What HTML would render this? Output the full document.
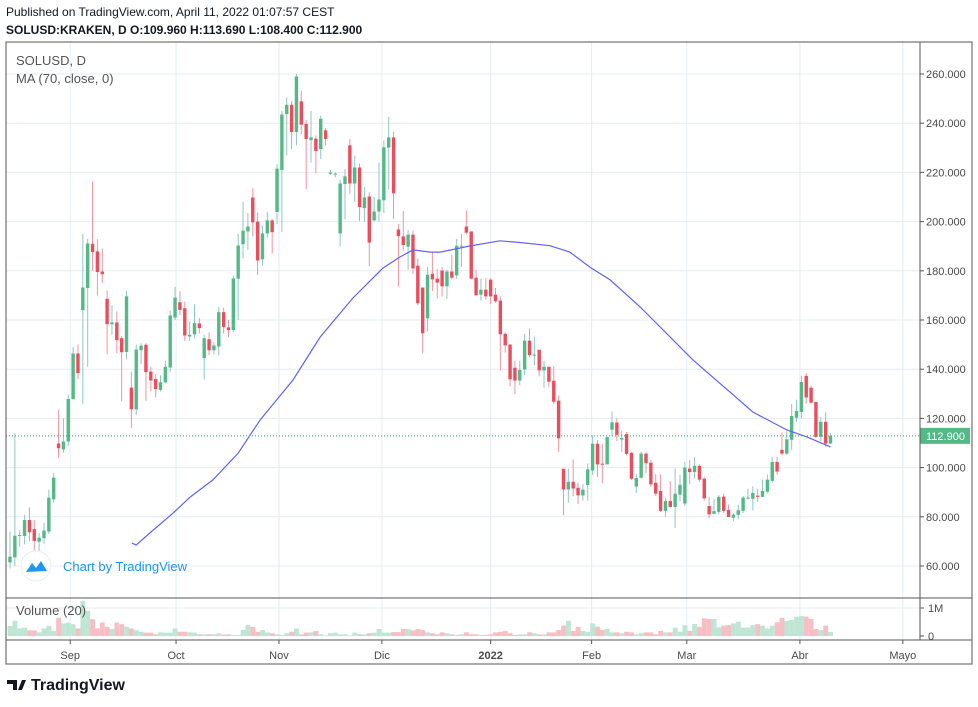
<!DOCTYPE html>
<html><head><meta charset="utf-8">
<style>
body{margin:0;background:#fff;width:978px;height:702px;overflow:hidden;font-family:"Liberation Sans",sans-serif;}
svg text{font-family:"Liberation Sans",sans-serif;}
</style></head>
<body>
<svg id="chart" width="978" height="702" xmlns="http://www.w3.org/2000/svg">
<text x="6" y="16" font-size="12" fill="#131722">Published on TradingView.com, April 11, 2022 01:07:57 CEST</text>
<text x="6" y="34" font-size="12" font-weight="bold" fill="#131722">SOLUSD:KRAKEN, D O:109.960 H:113.690 L:108.400 C:112.900</text>
<g id="grid"></g>
<g id="vol"></g>
<g id="candles"></g>
<path id="ma" fill="none" stroke="#6262f5" stroke-width="1.2"/>
<g id="axes"></g>
<text x="16" y="65" font-size="13" fill="#555">SOLUSD, D</text>
<text x="16" y="83" font-size="13" fill="#555">MA (70, close, 0)</text>
<text x="16" y="615" font-size="13" fill="#555">Volume (20)</text>
<g>
<circle cx="36" cy="566" r="15" fill="#fff" stroke="#e8eef2"/>
<path d="M26 572 L32 563 L36 568 L41 561 L47 571 Z" fill="#2196f3"/>
<text x="63" y="571" font-size="13" fill="#2196f3">Chart by TradingView</text>
</g>
<g>
<path d="M7 680 h10 v10 h-4 v-6 h-6z" fill="#131722"/><path d="M18 690 l4 -10 h4 l-4 10z" fill="#131722"/>
<text x="31" y="690" font-size="16" font-weight="bold" fill="#131722">TradingView</text>
</g>
</svg>
<script>
const opens=[61.5,63.5,72.4,72.2,78.7,75,69.9,71.3,74,87.1,109.8,107.4,110.6,127.8,146.4,164,173,191,187.9,179.7,168.6,158.3,159,152.6,147,132.5,123.7,147.7,149.9,139,136,131.6,134.6,140.7,161,167.2,164.8,153.3,154.2,158.6,144.5,152.2,147.7,149.2,163.2,157,155.9,176.8,190.8,196,209.8,200,184.7,195.2,200.5,203.9,221,243.7,247.5,236.4,248.9,239.7,233.1,233.7,229.5,237.1,219.4,219.1,195.2,215.3,231,215.5,222,205.5,210.2,200.5,204.1,208.7,230.1,234.2,196.8,194,189.8,194.7,182.1,173.2,160.7,178.8,176.8,180.1,173.7,179.7,178.2,190,198,196,177.2,170.3,172.3,176.4,170.3,167.9,154.4,150,140.6,135.4,139.9,151.6,145.6,147.9,139.5,141,135.3,127.2,99.5,91.1,94.2,91.8,88.7,92.9,98.8,109.7,101.6,101.3,115.4,118.3,111.4,113.6,106,92.3,95.9,105.7,102,93.8,90.5,82.4,86.4,84,89,85.4,99.6,98.2,100.7,95.5,84.4,81.2,82,88.2,82.8,79.6,80.8,82.4,87.4,87.3,88.6,88.1,90.2,94.6,102.3,107.2,105.7,111.3,120.3,122.6,137.3,132.5,126.7,112.5,118.6,109.8];
const highs=[74,114,74.6,80.9,83.8,78.7,73.3,77.6,91,97.9,123.5,120,129.6,149,150,195,193,216.3,192.8,189,172,166,163.5,153.5,171.8,139,150,150.5,150.5,141,138,137.5,143.5,163.8,173.5,171.8,167.5,159.5,166.3,160.8,154,155,151,165.3,164.9,160,178,195,208,203.5,213.6,203.7,198.5,204,201,223.3,245,250.5,249,260,253.3,241.4,245,235,243,238,221,220,217,221.3,233.6,226.8,223.6,214,211.9,210,224,233,242.6,236.5,199,204.3,196.5,196.3,185,173.2,181.5,187.6,180.7,181.5,180.5,186.5,193,195,204.5,196,180.5,176.8,177,177,173,169.6,155,150.3,143.4,143.4,154.4,156.5,153.2,147.9,143.3,141,141.2,129.3,99.5,99.5,103.3,94,93.4,101.7,113.2,111.2,109.6,112.6,122.8,120.2,115,114.5,106.4,97.5,106.4,106.2,103,97.3,97.3,87.8,94.5,99.6,97,102.4,103,104.3,101.3,96,88,87.3,88.8,89.3,85,81.5,85,88.5,91.4,92.4,91.4,95.1,97.2,104.4,104.4,114.3,114.8,125.8,127.6,137.3,138.4,133.3,126.7,120.5,122.4,113.9];
const lows=[59,60,67.8,68.8,70,64.5,66,69,73,85.8,103.8,106,108.7,127.8,136,125.8,141,180,170,175,146,154,146.5,127,144,116,121.5,142,127.2,131,128.5,131,134.6,139,160,162,151.5,151.5,152.5,154.5,135.8,145.8,146,145.5,154.5,153,155,160,185,188.5,194,178.3,182,193.5,187,199,195.8,227,229.6,231,235.6,213.2,224,219.6,225.4,231,219,218,190,201,211.3,208,200.3,200,181.8,200,200,203.5,213,201,173.6,188.2,180.5,178.6,166,146.5,155.3,171.8,168.8,169.5,168.5,176.5,176.6,181.5,194.7,176.5,170,167.9,168.2,166.5,167,139.4,146.8,133,129.8,133.5,137.6,145,141.5,137.1,132.5,132.9,125.8,106.4,80.6,85.7,88.4,85.2,86.6,86.6,97,96.2,93.6,101.7,112.7,110.8,106.4,105,95,89.7,95.5,97.7,92.3,88.5,82,80,83.8,75.4,86.4,84.4,93.2,95.5,94.2,86.6,79.5,81,81,81.6,79.9,78.3,79,81.5,87,82.6,86,88,89.5,93.9,97.2,105,105.2,107.2,118.6,120,126,126,112,110.8,108.5,109.5];
const closes=[63.8,72.3,72.6,78.7,73.7,70.2,71.5,74.4,87.8,95.9,107.9,110.6,127.9,146.4,138.4,173.2,191.1,187.6,179.5,178.6,158.3,159,151.8,146.9,169.6,123.7,148,149.6,138.8,135.4,131.9,134.7,141,161.8,169.1,164.1,153.7,154,158.7,156.7,152.6,147.7,149.6,163.2,157.1,155.9,176.9,190.3,196.3,198,199.7,184.2,195.2,200.5,195.7,221.5,243.5,247.5,236.4,259,239.4,233.6,234.2,228.7,241.8,233.6,219.9,219.5,215.5,218.4,215.5,222,205.9,209.8,191.5,204.1,209,230.2,234.2,211.5,194.1,190.5,194.7,181,166.8,154.6,178.4,176.5,175.2,173.7,179.7,177.2,190.2,190.2,195.5,176.8,170,172.3,169.6,169.6,167.6,154.2,149.7,135.9,135.4,139.7,151.6,145.7,145.9,139.5,141,134.9,126.8,111.9,91.1,94.2,91.5,88.7,91,99.3,109.7,101.3,101.3,112.4,118.4,113.3,112,105.6,95.5,95.8,105.7,101.8,93.2,89.4,82.4,86.4,84,89.4,93,100,98.2,100.7,95.1,87.5,81,82.3,88.1,82.4,79.9,80.9,82.7,87.8,87.8,89.7,88.1,90.5,95.1,102.3,98.4,105.7,111.5,121,123,134.8,128.5,126.4,112.5,118.6,109.8,112.9];
const volumes=[0.36,0.54,0.27,0.30,0.20,0.20,0.13,0.27,0.36,0.18,0.65,0.45,0.48,0.42,0.27,1.25,0.90,0.60,0.27,0.48,0.33,0.25,0.48,0.42,0.33,0.27,0.21,0.15,0.12,0.12,0.06,0.13,0.12,0.12,0.27,0.15,0.15,0.13,0.12,0.06,0.06,0.06,0.06,0.10,0.05,0.06,0.04,0.04,0.22,0.40,0.33,0.15,0.21,0.13,0.10,0.06,0.04,0.10,0.15,0.27,0.06,0.12,0.13,0.18,0.06,0.02,0.10,0.12,0.06,0.06,0.02,0.12,0.06,0.06,0.10,0.12,0.25,0.12,0.12,0.14,0.14,0.25,0.25,0.20,0.25,0.21,0.13,0.10,0.06,0.13,0.10,0.06,0.04,0.06,0.13,0.06,0.06,0.04,0.04,0.06,0.13,0.15,0.18,0.10,0.04,0.06,0.06,0.13,0.10,0.06,0.06,0.13,0.13,0.21,0.37,0.54,0.18,0.33,0.18,0.15,0.45,0.33,0.21,0.25,0.13,0.13,0.10,0.15,0.13,0.06,0.10,0.13,0.13,0.06,0.18,0.13,0.13,0.30,0.15,0.39,0.18,0.43,0.33,0.63,0.61,0.61,0.31,0.37,0.39,0.45,0.51,0.30,0.30,0.39,0.42,0.37,0.27,0.37,0.49,0.65,0.54,0.57,0.69,0.71,0.69,0.61,0.25,0.21,0.37,0.15,0.21,0.04];
const maIdx=[25.1,26,28.8,33.6,37.1,41.8,47,51.5,58.3,63.9,70.6,76.8,80.3,83,86.5,88.6,94.7,100.9,105,111.2,115.3,119.5,123.6,129.8,140.7,148.3,153,160,164.2,169];
const maVal=[69.3,68.5,73.4,81.5,88.0,95.0,105.9,119.3,135.6,153.1,168.9,181.1,185.6,188.5,187.6,187.6,190.1,192.2,191.5,190.2,187.6,181.4,176.3,165.3,143.7,130.7,122.6,115.3,112.4,108.4];
const priceTicks=[60,80,100,120,140,160,180,200,220,240,260];
const monthLabels=["Sep","Oct","Nov","Dic","2022","Feb","Mar","Abr","Mayo"];
const monthIdx=[12.4,34.2,55.4,76.6,99.0,119.8,139.4,162.7,183.9];
const lastPrice=112.9;

const NS="http://www.w3.org/2000/svg";
const L=6,R=920,T=42,PB=598,VB=640,B=664;
const X=i=>10+i*4.855;
const Y=p=>566-(p-60)*2.46;
const VY=v=>636-v*28;
function mk(tag,attrs,parent){const e=document.createElementNS(NS,tag);for(const k in attrs)e.setAttribute(k,attrs[k]);parent.appendChild(e);return e;}
const grid=document.getElementById('grid'),axes=document.getElementById('axes'),cg=document.getElementById('candles'),vg=document.getElementById('vol');
priceTicks.forEach(p=>{
  const l=mk('line',{x1:L,x2:R,y1:Y(p),y2:Y(p),stroke:'#e4ecf2'},grid);
  
  
  const t=mk('text',{x:926,y:Y(p)+4,'font-size':11,fill:'#4a4a4a'},axes);t.textContent=p.toFixed(3);
  
  
});
mk('line',{x1:L,x2:R,y1:608,y2:608,stroke:'#e4ecf2'},grid);
monthIdx.forEach((m,k)=>{
  const x=X(m);
  const l=mk('line',{x1:x,x2:x,y1:T,y2:VB,stroke:'#e4ecf2'},grid);
  
  
  mk('line',{x1:x,x2:x,y1:VB,y2:VB+4,stroke:'#555'},axes);
  const t=mk('text',{x:x,y:659,'font-size':11,fill:'#4a4a4a','text-anchor':'middle','font-weight':monthLabels[k]==='2022'?'bold':'normal'},axes);t.textContent=monthLabels[k];
  
  
});
volumes.slice(0,opens.length).forEach((v,i)=>{
  const up=closes[i]>=opens[i];
  const r=mk('rect',{x:X(i)-2.4,y:VY(v),width:4.9,height:636-VY(v),fill:up?'#bfe6d4':'#f7bfc5'},vg);
  
  
});
opens.forEach((o,i)=>{
  const c=closes[i],up=c>=o,x=X(i);
  const g=mk('g',{},cg);
  
  
  mk('line',{x1:x,x2:x,y1:Y(highs[i]),y2:Y(lows[i]),stroke:up?'#8fc9c0':'#f2949f','stroke-width':1},g);
  const top=Y(Math.max(o,c)),h=Math.max(1,Math.abs(Y(o)-Y(c)));
  mk('rect',{x:x-1.7,y:top,width:3.4,height:h,fill:up?'#53b987':'#eb4d5c'},g);
});
let d='';maIdx.forEach((m,k)=>{d+=(k?'L':'M')+X(m).toFixed(1)+' '+Y(maVal[k]).toFixed(1);});
document.getElementById('ma').setAttribute('d',d);
const ly=Y(lastPrice);
const pl=mk('line',{x1:L,x2:R,y1:ly,y2:ly,stroke:'#3a9a6a','stroke-dasharray':'1,2'},axes);


const pb=mk('rect',{x:920,y:ly-8,width:50,height:16,fill:'#53b987'},axes);


const pt=mk('text',{x:926,y:ly+4,'font-size':11,fill:'#fff'},axes);pt.textContent=lastPrice.toFixed(3);
mk('rect',{x:L,y:T,width:972-L,height:B-T,fill:'none',stroke:'#555'},axes);
mk('line',{x1:R,x2:R,y1:T,y2:VB,stroke:'#555'},axes);
mk('line',{x1:L,x2:972,y1:PB,y2:PB,stroke:'#555'},axes);
mk('line',{x1:L,x2:972,y1:VB,y2:VB,stroke:'#555'},axes);
[[608,'1M'],[636,'0']].forEach(a=>{mk('line',{x1:R,x2:R+4,y1:a[0],y2:a[0],stroke:'#555'},axes);const t=mk('text',{x:928,y:a[0]+4,'font-size':11,fill:'#4a4a4a'},axes);t.textContent=a[1];
  
  });
priceTicks.forEach(p=>mk('line',{x1:R,x2:R+4,y1:Y(p),y2:Y(p),stroke:'#555'},axes));
</script>
</body></html>
